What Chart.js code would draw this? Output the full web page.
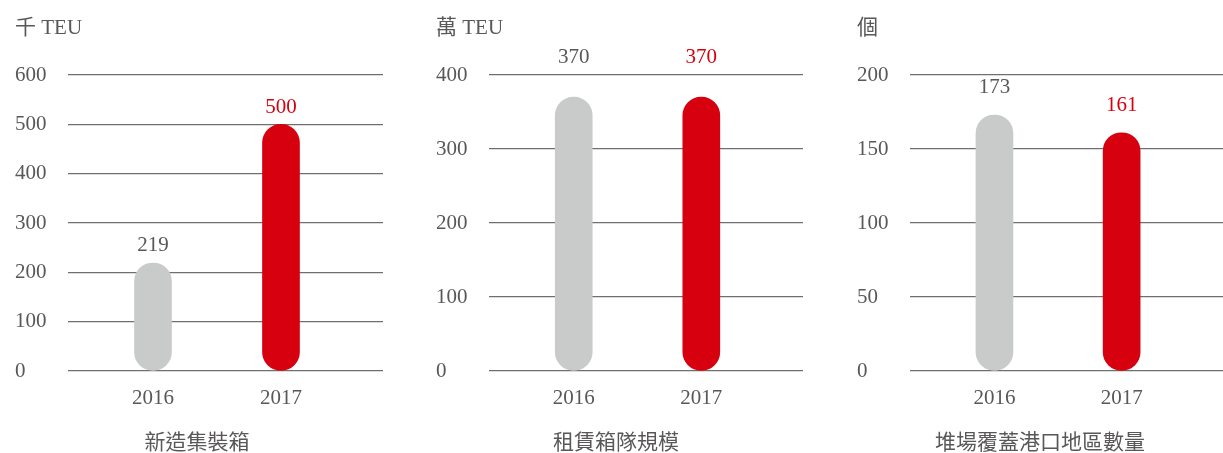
<!DOCTYPE html>
<html>
<head>
<meta charset="UTF-8">
<script src="https://cdn.jsdelivr.net/npm/chart.js"></script>
<style>
  body { margin: 0; background: #fff; }
  .panel { position: absolute; top: 0; height: 453px; }
</style>
</head>
<body>
<div class="panel" style="left:0;width:394px"><canvas id="c1"></canvas></div>
<div class="panel" style="left:410px;width:412px"><canvas id="c2"></canvas></div>
<div class="panel" style="left:857px;width:366px"><canvas id="c3"></canvas></div>
<script>
// data
const years = ['2016', '2017'];
const newContainers = [219, 500];   // 千 TEU
const fleetSize = [370, 370];       // 萬 TEU
const depotLocations = [173, 161];  // 個
const units = ['千 TEU', '萬 TEU', '個'];
const captions = ['新造集裝箱', '租賃箱隊規模', '堆場覆蓋港口地區數量'];
const yMax = [600, 400, 200];
const yStep = [100, 100, 50];

const grey = '#c9caca';
const red = '#d7000f';
const textGrey = '#595757';
const fontFamily = '"Liberation Serif", "Noto Sans CJK TC", serif';

// numbers above bars, unit at top-left, caption at bottom
const valueLabels = {
  id: 'valueLabels',
  afterDatasetsDraw(chart, args, opts) {
    const ctx = chart.ctx;
    const meta = chart.getDatasetMeta(0);
    const vals = chart.data.datasets[0].data;
    ctx.save();
    ctx.font = '21px ' + fontFamily;
    ctx.textAlign = 'center';
    ctx.textBaseline = 'middle';
    meta.data.forEach((bar, i) => {
      ctx.fillStyle = i === 0 ? textGrey : red;
      ctx.fillText(vals[i].y, bar.x, bar.y - opts.gap);
    });
    ctx.fillStyle = textGrey;
    ctx.fillText(opts.caption, chart.width / 2, 443);
    ctx.textAlign = 'left';
    ctx.fillText(opts.unit, chart.scales.y.left, 28);
    ctx.restore();
  }
};

function makeChart(id, values, idx, padLeft, padRight, gap) {
  new Chart(document.getElementById(id), {
    type: 'bar',
    data: {
      datasets: [{
        data: values.map((v, i) => ({ x: i + 1, y: v })),
        backgroundColor: [grey, red],
        barThickness: 37,
        borderRadius: 19,
        borderSkipped: false
      }]
    },
    options: {
      responsive: true,
      maintainAspectRatio: false,
      animation: false,
      layout: { padding: { top: 75, left: padLeft, right: padRight, bottom: 0 } },
      scales: {
        x: {
          type: 'linear',
          offset: false,
          min: 0.336,
          max: 2.797,
          grid: { display: false, offset: false },
          border: { display: false },
          afterBuildTicks: s => { s.ticks = years.map((y, i) => ({ value: i + 1 })); },
          afterFit: s => { s.height = 82; },
          ticks: {
            padding: 7,
            color: textGrey,
            font: { size: 21, family: fontFamily },
            callback: v => years[v - 1]
          }
        },
        y: {
          min: 0,
          max: yMax[idx],
          grid: { color: '#6f6f6f', lineWidth: 1.2, drawTicks: false },
          border: { display: false },
          afterFit: s => { s.width = 53; },
          ticks: {
            stepSize: yStep[idx],
            crossAlign: 'far',
            padding: 0,
            color: textGrey,
            font: { size: 21, family: fontFamily }
          }
        }
      },
      plugins: {
        legend: { display: false },
        tooltip: { enabled: false },
        valueLabels: { gap: gap, unit: units[idx], caption: captions[idx] }
      }
    },
    plugins: [valueLabels]
  });
}

makeChart('c1', newContainers, 0, 15, 11, 17);
makeChart('c2', fleetSize, 1, 26, 19, 40);
makeChart('c3', depotLocations, 2, 0, 0, 27);
</script>
</body>
</html>
